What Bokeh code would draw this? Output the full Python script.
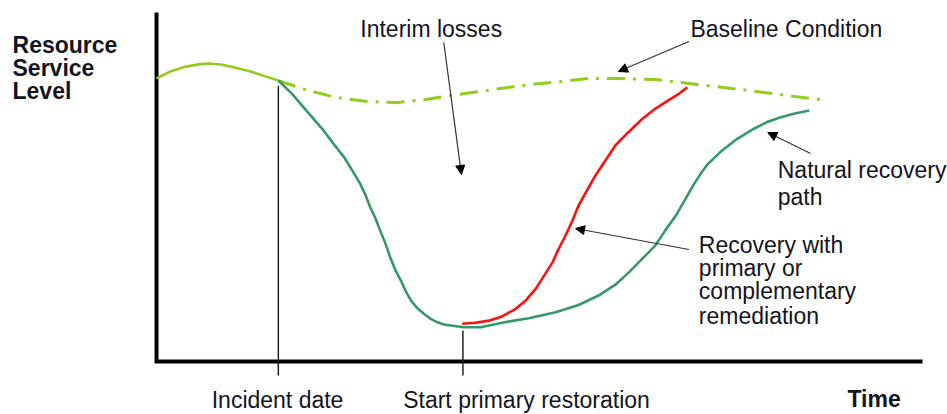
from bokeh.plotting import figure
from bokeh.models import Range1d, Label, Arrow, NormalHead
from bokeh.embed import file_html
from bokeh.resources import INLINE

# ---- data (time 0-100, resource service level 0-100) ----
pre_t = [0, 1.8, 3.8, 5.7, 6.8, 8.4, 10.3, 12.3, 14.2, 15.9]
pre_L = [81.1, 83.1, 84.5, 85.2, 85.4, 85.1, 84.2, 83.1, 81.7, 80.5]

base_t = [15.9, 19.7, 23.6, 27.5, 31.5, 35.1, 38.4, 42.3, 47.8, 52.7, 56.4,
          60.3, 65.1, 69.3, 77.2, 82.4, 87.6]
base_L = [80.5, 77.7, 75.6, 74.5, 74.2, 75.1, 76.2, 77.4, 79.1, 80.2, 81.1,
          81.1, 80.8, 79.7, 77.7, 76.2, 74.8]

natural_t = [15.9, 17.7, 19.2, 20.5, 21.8, 23.1, 24.5, 25.7, 26.6, 27.3, 27.9,
             28.6, 29.2, 29.9, 30.5, 31.2, 31.9, 32.5, 33.2, 34.0, 34.9, 35.8,
             36.6, 37.5, 38.4, 40.1, 42.3, 45.6, 48.6, 52.1, 55.1, 57.7, 59.9,
             61.7, 63.4, 65.1, 66.4, 67.8, 69.0, 70.1, 71.0, 71.9, 73.6, 75.8,
             78.0, 79.7, 81.5, 83.2, 85.2]
natural_L = [80.5, 76.7, 72.8, 69.5, 66.2, 62.4, 58.5, 54.2, 50.9, 47.6, 44.2,
             40.9, 37.5, 33.7, 29.9, 26.1, 23.2, 20.3, 17.5, 15.4, 13.7, 12.2,
             11.3, 10.6, 10.3, 9.8, 9.8, 11.3, 12.4, 14.1, 16.2, 18.9, 22.0,
             25.6, 29.4, 33.2, 37.5, 41.8, 46.4, 50.6, 53.7, 56.4, 60.0, 63.8,
             66.7, 68.6, 70.0, 71.0, 71.9]

red_t = [39.9, 41.6, 43.4, 45.1, 46.9, 48.2, 49.5, 50.6, 51.7, 52.5, 53.4, 54.3,
         55.1, 56.2, 57.3, 58.6, 59.9, 61.6, 63.4, 65.1, 66.8, 68.2, 69.3]
red_L = [10.8, 11.1, 11.7, 12.9, 15.1, 17.5, 20.8, 24.6, 28.4, 32.3, 36.1, 40.4,
         44.7, 49.0, 53.3, 57.6, 61.9, 65.7, 69.5, 72.4, 74.8, 76.7, 78.6]

# axes frame (origin -> ends) and events
axis_t = [0, 0, 100]
axis_L = [100, 0, 0]
tick_bottom_L = -4.0
event_t = [15.9, 40.0]
event_top_L = [79.0, 8.9]
event_labels = ["Incident date", "Start primary restoration"]
event_label_t = [15.8, 48.3]
event_label_L = -10.9

annot_text = ["Interim losses", "Baseline Condition", "Natural recovery", "path",
              "Recovery with", "primary or", "complementary", "remediation"]
annot_t = [26.6, 69.7, 81.1, 81.1, 70.8, 70.8, 70.8, 70.8]
annot_L = [95.4, 95.4, 55.0, 47.2, 33.5, 26.9, 20.1, 13.0]

arrow_t0 = [37.5, 69.5, 85.4, 69.5]
arrow_L0 = [91.4, 91.7, 59.6, 32.1]
arrow_t1 = [39.8, 60.3, 79.8, 54.7]
arrow_L1 = [53.6, 83.1, 65.6, 38.1]

ylabel_lines = ["Resource", "Service", "Level"]
ylabel_L = [90.8, 84.0, 77.4]
ylabel_t = -18.8
xlabel = "Time"
xlabel_t = 90.2
xlabel_L = -10.8

FONT = "Liberation Sans"
TXT = "#141420"
SIZE = "23px"

p = figure(width=947, height=414, output_backend="svg", toolbar_location=None,
           x_range=Range1d(-20.37, 103.26), y_range=Range1d(-15.19, 103.44),
           x_axis_location=None, y_axis_location=None, min_border=0)
p.outline_line_color = None
p.grid.grid_line_color = None
p.background_fill_color = "white"

# axis lines
p.line(axis_t, axis_L, line_color="black", line_width=4, line_join="miter")

# event lines with ticks below the time axis
p.segment(x0=event_t, y0=[tick_bottom_L] * len(event_t), x1=event_t, y1=event_top_L,
          line_color="#222222", line_width=1.5)

# curves
p.line(pre_t, pre_L, line_color="#92cc1e", line_width=2.6, line_join="round")
p.line(base_t, base_L, line_color="#92cc1e", line_width=3, line_dash="18 8 3 8")
p.line(natural_t, natural_L, line_color="#339966", line_width=2.6, line_join="round")
p.line(red_t, red_L, line_color="#ff1010", line_width=2.6, line_join="round")

# arrows
for x0, y0, x1, y1 in zip(arrow_t0, arrow_L0, arrow_t1, arrow_L1):
    p.add_layout(Arrow(end=NormalHead(size=9, fill_color="black", line_color="black"),
                       x_start=x0, y_start=y0, x_end=x1, y_end=y1,
                       line_color="#333333", line_width=1.2))

# annotation texts
for txt, t, L in zip(annot_text, annot_t, annot_L):
    p.add_layout(Label(x=t, y=L, text=txt, text_font=FONT, text_font_size=SIZE,
                       text_color=TXT, text_baseline="alphabetic", text_align="left"))

for txt, t in zip(event_labels, event_label_t):
    p.add_layout(Label(x=t, y=event_label_L, text=txt, text_font=FONT,
                       text_font_size=SIZE, text_color=TXT,
                       text_baseline="alphabetic", text_align="center"))

p.add_layout(Label(x=xlabel_t, y=xlabel_L, text=xlabel, text_font=FONT,
                   text_font_size=SIZE, text_font_style="bold", text_color=TXT,
                   text_baseline="alphabetic", text_align="left"))

for txt, L in zip(ylabel_lines, ylabel_L):
    p.add_layout(Label(x=ylabel_t, y=L, text=txt, text_font=FONT,
                       text_font_size=SIZE, text_font_style="bold", text_color=TXT,
                       text_baseline="alphabetic", text_align="left"))

open("out.html", "w").write(file_html(p, INLINE))
